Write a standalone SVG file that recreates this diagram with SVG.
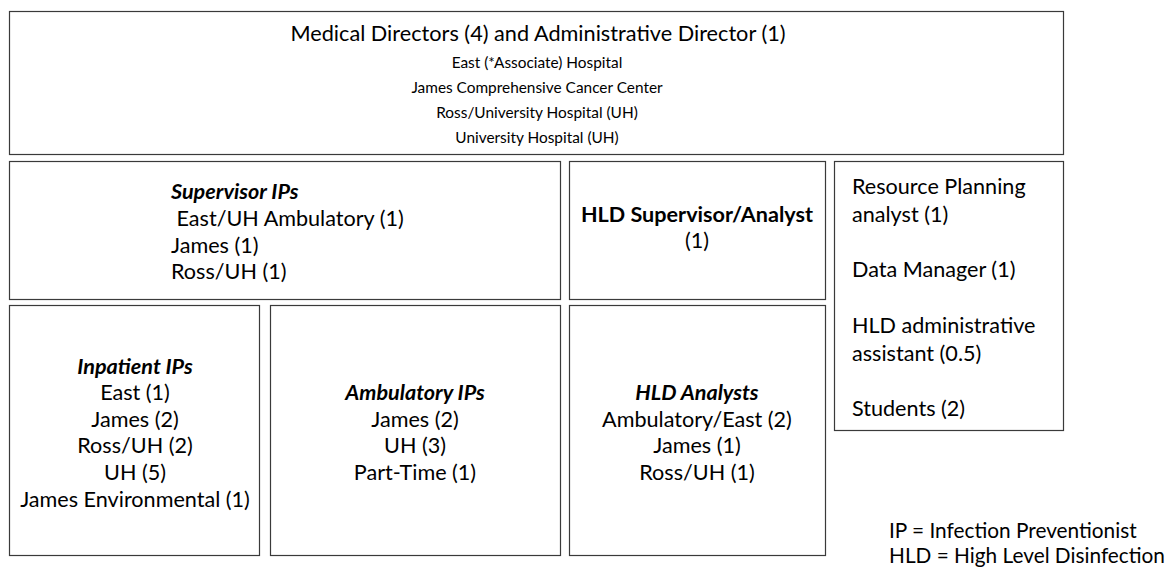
<svg xmlns="http://www.w3.org/2000/svg" width="1166" height="568" viewBox="0 0 1166 568">
  <style>
    .box { fill: #ffffff; stroke: #3a3a3a; stroke-width: 1.2; }
    text { font-family: Lato, "Open Sans", "Liberation Sans", sans-serif; fill: #000000; }
    .h1 { font-size: 21.7px; }
    .sm { font-size: 15.4px; }
    .t { font-size: 21.6px; }
    .lg { font-size: 20.8px; }
    .c { text-anchor: middle; }
    .bi { font-weight: bold; font-style: italic; }
    .b { font-weight: bold; }
  </style>
  <rect width="1166" height="568" fill="#ffffff"/>

  <g id="directors">
    <rect class="box" x="9.5" y="11.5" width="1054" height="143"/>
    <text class="h1 c" x="538" y="41">Medical Directors (4) and Administrative Director (1)</text>
    <text class="sm c" x="537" y="67.5">East (*Associate) Hospital</text>
    <text class="sm c" x="537" y="92.5">James Comprehensive Cancer Center</text>
    <text class="sm c" x="537" y="117.5">Ross/University Hospital (UH)</text>
    <text class="sm c" x="537" y="142.5">University Hospital (UH)</text>
  </g>

  <g id="supervisor-ips">
    <rect class="box" x="9.5" y="161.5" width="551" height="138"/>
    <text class="t bi" x="171" y="198.5">Supervisor IPs</text>
    <text class="t" x="171" y="225.5" xml:space="preserve"> East/UH Ambulatory (1)</text>
    <text class="t" x="171" y="252.5">James (1)</text>
    <text class="t" x="171" y="278.5">Ross/UH (1)</text>
  </g>

  <g id="hld-supervisor">
    <rect class="box" x="569.5" y="161.5" width="256" height="138"/>
    <text class="t b c" x="697" y="221.5">HLD Supervisor/Analyst</text>
    <text class="t c" x="697" y="247.5">(1)</text>
  </g>

  <g id="support-staff">
    <rect class="box" x="834.5" y="161.5" width="229" height="269"/>
    <text class="t" x="852" y="193.5">Resource Planning</text>
    <text class="t" x="852" y="221.5">analyst (1)</text>
    <text class="t" x="852" y="276.5">Data Manager (1)</text>
    <text class="t" x="852" y="332.5">HLD administrative</text>
    <text class="t" x="852" y="360.5">assistant (0.5)</text>
    <text class="t" x="852" y="415.5">Students (2)</text>
  </g>

  <g id="inpatient-ips">
    <rect class="box" x="9.5" y="305.5" width="250" height="250"/>
    <text class="t bi c" x="135" y="373.5">Inpatient IPs</text>
    <text class="t c" x="135" y="400">East (1)</text>
    <text class="t c" x="135" y="427">James (2)</text>
    <text class="t c" x="135" y="453">Ross/UH (2)</text>
    <text class="t c" x="135" y="480">UH (5)</text>
    <text class="t c" x="135" y="507">James Environmental (1)</text>
  </g>

  <g id="ambulatory-ips">
    <rect class="box" x="270.5" y="305.5" width="290" height="250"/>
    <text class="t bi c" x="415" y="400">Ambulatory IPs</text>
    <text class="t c" x="415" y="427">James (2)</text>
    <text class="t c" x="415" y="453">UH (3)</text>
    <text class="t c" x="415" y="480">Part-Time (1)</text>
  </g>

  <g id="hld-analysts">
    <rect class="box" x="569.5" y="305.5" width="256" height="250"/>
    <text class="t bi c" x="697" y="400">HLD Analysts</text>
    <text class="t c" x="697" y="427">Ambulatory/East (2)</text>
    <text class="t c" x="697" y="453">James (1)</text>
    <text class="t c" x="697" y="480">Ross/UH (1)</text>
  </g>

  <g id="legend">
    <text class="lg" x="889" y="538">IP = Infection Preventionist</text>
    <text class="lg" x="889" y="563">HLD = High Level Disinfection</text>
  </g>

  <g id="connectors"></g>
</svg>
